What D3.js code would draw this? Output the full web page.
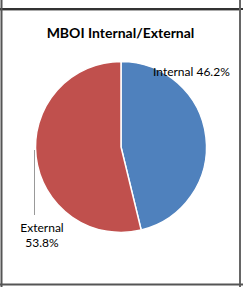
<!DOCTYPE html>
<html><head><meta charset="utf-8">
<script src="https://cdn.jsdelivr.net/npm/d3@7/dist/d3.min.js"></script>
<style>html,body{margin:0;padding:0;background:#fff;}svg{display:block;}</style>
</head><body>
<svg id="c" width="243" height="287"></svg>
<script>
const title = "MBOI Internal/External";
const categories = ["Internal", "External"];
const values = [46.2, 53.8];
const colors = ["#4F81BD", "#C0504D"];

const svg = d3.select("#c");
const font = "Lato, 'Open Sans', sans-serif";

// frame lines
svg.append("line").attr("x1",0).attr("x2",243).attr("y1",9).attr("y2",9).attr("stroke","#333").attr("stroke-width",2);
svg.append("line").attr("x1",0).attr("x2",241).attr("y1",10.5).attr("y2",10.5).attr("stroke","#aaa").attr("stroke-width",1);
svg.append("line").attr("x1",1.5).attr("x2",1.5).attr("y1",0).attr("y2",287).attr("stroke","#555").attr("stroke-width",2);
svg.append("line").attr("x1",240).attr("x2",240).attr("y1",0).attr("y2",287).attr("stroke","#666").attr("stroke-width",2);
svg.append("line").attr("x1",0).attr("x2",243).attr("y1",284.5).attr("y2",284.5).attr("stroke","#555").attr("stroke-width",2);

svg.append("text").attr("x",120.5).attr("y",37.5).attr("text-anchor","middle")
  .attr("font-family",font).attr("font-weight","bold").attr("font-size",14).attr("fill","#000").text(title);

const cx = 121, cy = 147, r = 85.5;
const pie = d3.pie().sort(null).value(d => d);
const arcs = pie(values);
const arc = d3.arc().innerRadius(0).outerRadius(r);
const g = svg.append("g").attr("transform",`translate(${cx},${cy})`);
g.selectAll("path").data(arcs).enter().append("path")
  .attr("d", arc).attr("fill",(d,i)=>colors[i]).attr("stroke","#fff").attr("stroke-width",1.5);

// leader line for External
svg.append("line").attr("x1",34.5).attr("x2",34.5).attr("y1",150).attr("y2",215).attr("stroke","#999").attr("stroke-width",1);

const fmt = v => v.toFixed(1) + "%";
svg.append("text").attr("x",153).attr("y",75.5).attr("font-family",font).attr("font-size",12).attr("fill","#000")
  .text(categories[0] + " " + fmt(values[0]));
const ext = svg.append("text").attr("font-family",font).attr("font-size",12).attr("fill","#000").attr("text-anchor","middle");
ext.append("tspan").attr("x",42).attr("y",232).text(categories[1]);
ext.append("tspan").attr("x",42).attr("y",247).text(fmt(values[1]));
</script>
</body></html>
